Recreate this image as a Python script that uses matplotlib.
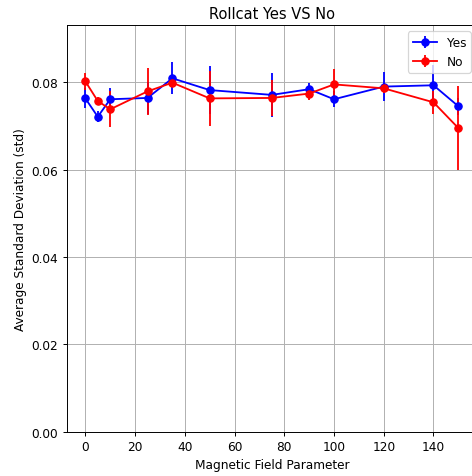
import matplotlib
matplotlib.use("Agg")
import matplotlib.pyplot as plt

# magnetic field parameter values
field = [0, 5, 10, 25, 35, 50, 75, 90, 100, 120, 140, 150]

# rollcat = yes
yes_mean = [0.0763, 0.0721, 0.0761, 0.0764, 0.0809, 0.0782, 0.0771, 0.0784, 0.0761, 0.0790, 0.0793, 0.0745]
yes_err = [0.0023, 0.0012, 0.0025, 0.0037, 0.0037, 0.0054, 0.0050, 0.0015, 0.0018, 0.0034, 0.0046, 0.0020]

# rollcat = no
no_mean = [0.0802, 0.0757, 0.0738, 0.0779, 0.0799, 0.0763, 0.0764, 0.0774, 0.0795, 0.0786, 0.0754, 0.0695]
no_err = [0.0020, 0.0010, 0.0041, 0.0053, 0.0010, 0.0063, 0.0042, 0.0015, 0.0035, 0.0010, 0.0027, 0.0096]

# the reference looks like a downscaled render, so use a lower dpi
dpi = 87.5
fig = plt.figure(figsize=(472 / dpi, 477 / dpi), dpi=dpi)
ax = fig.add_axes([0.1413, 0.0929, 0.8693, 0.8526])

ax.errorbar(field, yes_mean, yerr=yes_err, fmt="-o", color="blue", label="Yes")
ax.errorbar(field, no_mean, yerr=no_err, fmt="-o", color="red", label="No")

ax.set_title("Rollcat Yes VS No")
ax.set_xlabel("Magnetic Field Parameter")
ax.set_ylabel("Average Standard Deviation (std)")
ax.set_ylim(0, 0.0931)
ax.set_xlim(-7.5, 157.5)
ax.grid(True)
ax.legend(loc="upper right")

fig.savefig("out.png", dpi=dpi)
